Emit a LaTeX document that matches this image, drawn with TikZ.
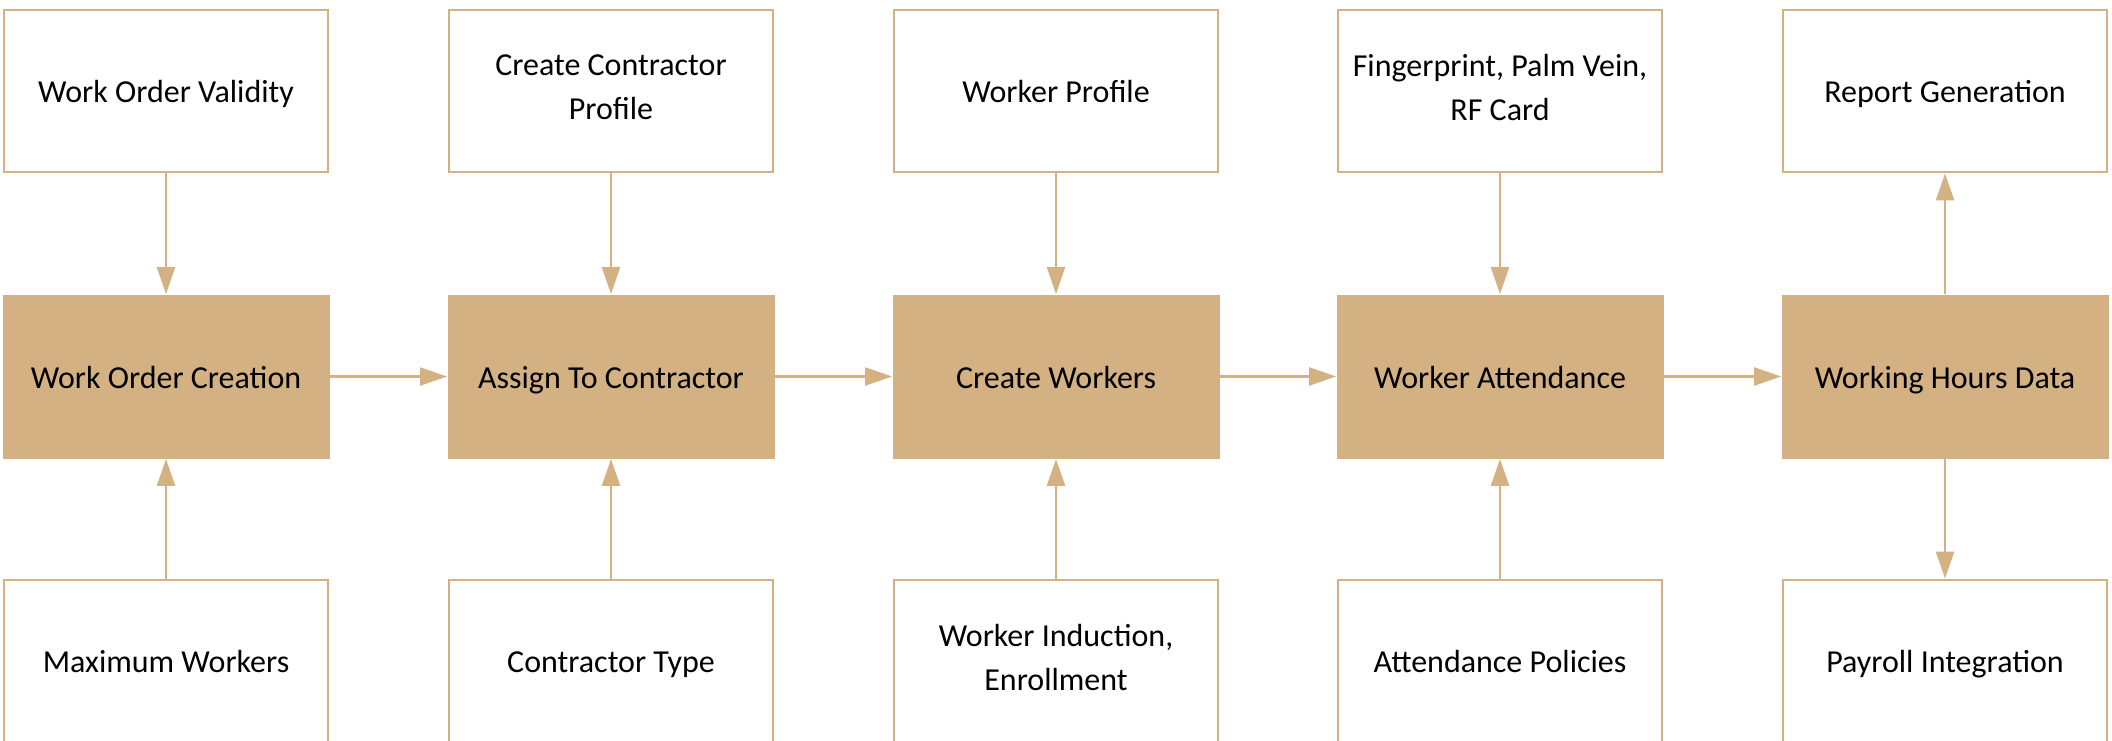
\documentclass[tikz,border=0pt]{standalone}
\usepackage{fontspec}
\setmainfont{Carlito}
\usetikzlibrary{arrows.meta}
\definecolor{tan}{HTML}{D4B183}
\newcommand{\boxstrut}{\rule[-4.1pt]{0pt}{20.1pt}}
\tikzset{
  boxfont/.style={font=\fontsize{16pt}{22pt}\selectfont, execute at begin node=\boxstrut, execute at end node=\boxstrut},
  outbox/.style={boxfont, draw=tan, line width=1.4pt, fill=white, minimum width=162pt, minimum height=81pt, align=center, inner sep=0pt},
  mainbox/.style={boxfont, fill=tan, draw=none, minimum width=163.5pt, minimum height=82pt, align=center, inner sep=0pt},
  conn/.style={draw=tan, line width=1.1pt, -{Triangle[length=13.5pt,width=9pt]}}
}
\begin{document}
\begin{tikzpicture}[x=0.5pt,y=-0.5pt]
\useasboundingbox (0,0) rectangle (2112,740);
% middle row
\node[mainbox] (m1) at (166,376.5) {Work Order Creation};
\node[mainbox] (m2) at (611,376.5) {Assign To Contractor};
\node[mainbox] (m3) at (1056,376.5) {Create Workers};
\node[mainbox] (m4) at (1500,376.5) {Worker Attendance};
\node[mainbox] (m5) at (1945,376.5) {Working Hours Data};
% top row
\node[outbox] (t1) at (166,91) {Work Order Validity};
\node[outbox] (t2) at (611,91) {Create Contractor\\Profile};
\node[outbox] (t3) at (1056,91) {Worker Profile};
\node[outbox] (t4) at (1500,91) {Fingerprint, Palm Vein,\\RF Card};
\node[outbox] (t5) at (1945,91) {Report Generation};
% bottom row
\node[outbox] (b1) at (166,661) {Maximum Workers};
\node[outbox] (b2) at (611,661) {Contractor Type};
\node[outbox] (b3) at (1056,661) {Worker Induction,\\Enrollment};
\node[outbox] (b4) at (1500,661) {Attendance Policies};
\node[outbox] (b5) at (1945,661) {Payroll Integration};
% connectors
\draw[conn] (m1) -- (m2);
\draw[conn] (m2) -- (m3);
\draw[conn] (m3) -- (m4);
\draw[conn] (m4) -- (m5);
\draw[conn] (t1) -- (m1);
\draw[conn] (t2) -- (m2);
\draw[conn] (t3) -- (m3);
\draw[conn] (t4) -- (m4);
\draw[conn] (m5) -- (t5);
\draw[conn] (b1) -- (m1);
\draw[conn] (b2) -- (m2);
\draw[conn] (b3) -- (m3);
\draw[conn] (b4) -- (m4);
\draw[conn] (m5) -- (b5);
\end{tikzpicture}
\end{document}
